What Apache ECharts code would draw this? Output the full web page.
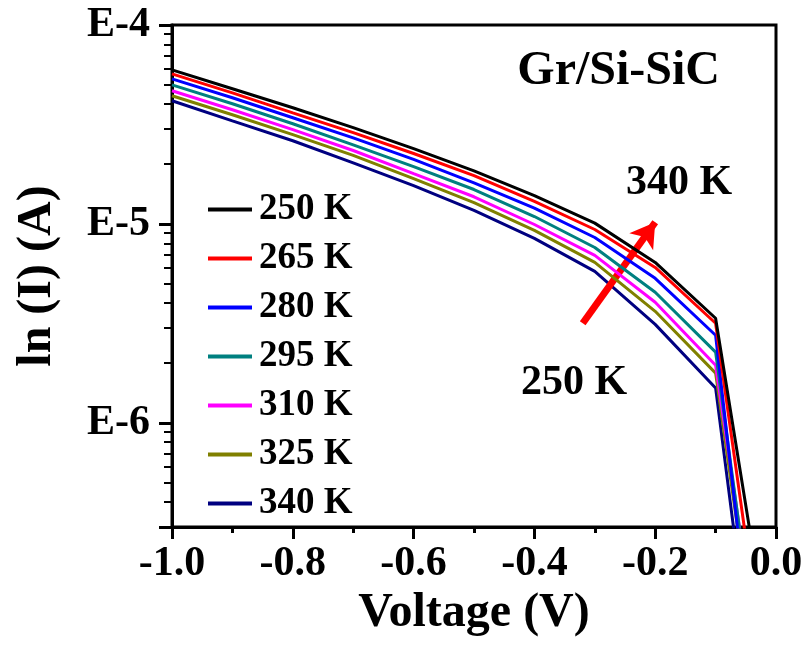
<!DOCTYPE html>
<html>
<head>
<meta charset="utf-8">
<script src="https://cdn.jsdelivr.net/npm/echarts@6/dist/echarts.min.js"></script>
<style>
  html, body { margin: 0; padding: 0; background: #fff; }
  #main { width: 810px; height: 647px; }
</style>
</head>
<body>
<div id="main"></div>
<script>
// voltage (V)
const voltage = [-1.0, -0.9, -0.8, -0.7, -0.6, -0.5, -0.4, -0.3, -0.2, -0.1, 0.0];

// current (A) for each temperature
const i250 = [5.95e-5, 4.78e-5, 3.84e-5, 3.05e-5, 2.39e-5, 1.85e-5, 1.39e-5, 1.01e-5, 6.41e-6, 3.36e-6, 4.4e-8];
const i265 = [5.68e-5, 4.56e-5, 3.62e-5, 2.88e-5, 2.26e-5, 1.75e-5, 1.30e-5, 9.38e-6, 6.05e-6, 3.17e-6, 2.2e-8];
const i280 = [5.36e-5, 4.31e-5, 3.42e-5, 2.71e-5, 2.11e-5, 1.61e-5, 1.20e-5, 8.55e-6, 5.33e-6, 2.76e-6, 5.9e-9];
const i295 = [5.00e-5, 4.02e-5, 3.19e-5, 2.50e-5, 1.94e-5, 1.49e-5, 1.09e-5, 7.62e-6, 4.54e-6, 2.27e-6, 1.3e-8];
const i310 = [4.67e-5, 3.75e-5, 2.98e-5, 2.34e-5, 1.79e-5, 1.37e-5, 9.94e-6, 6.95e-6, 4.04e-6, 1.95e-6, 1.7e-8];
const i325 = [4.41e-5, 3.54e-5, 2.81e-5, 2.21e-5, 1.69e-5, 1.28e-5, 9.28e-6, 6.41e-6, 3.64e-6, 1.78e-6, 1.3e-8];
const i340 = [4.16e-5, 3.30e-5, 2.62e-5, 2.03e-5, 1.56e-5, 1.17e-5, 8.46e-6, 5.78e-6, 3.13e-6, 1.50e-6, 6.5e-9];

const names = ['250 K', '265 K', '280 K', '295 K', '310 K', '325 K', '340 K'];
const currents = [i250, i265, i280, i295, i310, i325, i340];
const colors = ['#000000', '#ff0000', '#0000ff', '#008080', '#ff00ff', '#808000', '#000080'];

// arrow from 250 K side to 340 K side (V, A)
const arrowStart = [-0.32, 3.17e-6];
const arrowEnd = [-0.2, 1.02e-5];

const font = '"Liberation Serif", "Times New Roman", serif';

const myChart = echarts.init(document.getElementById('main'));

const series = names.map((n, k) => ({
  name: n,
  type: 'line',
  data: voltage.map((v, j) => [v, currents[k][j]]),
  showSymbol: false,
  symbol: 'none',
  color: colors[k],
  lineStyle: { width: 3, color: colors[k] },
  clip: true,
  z: 10 - k
}));

// red arrow
series[0].markLine = {
  silent: true,
  symbol: ['none', 'arrow'],
  symbolSize: [22, 24],
  label: { show: false },
  lineStyle: { color: '#ff0000', width: 7, type: 'solid' },
  data: [[{ coord: arrowStart }, { coord: arrowEnd }]]
};

const option = {
  animation: false,
  backgroundColor: '#fff',
  grid: {
    left: 172,
    right: 34,
    top: 25,
    bottom: 120,
    show: true,
    borderColor: '#000',
    borderWidth: 3
  },
  legend: {
    orient: 'vertical',
    left: 203,
    top: 186,
    itemWidth: 44,
    itemHeight: 4,
    itemGap: 12,
    icon: 'rect',
    data: names,
    textStyle: {
      fontFamily: font,
      fontWeight: 'bold',
      fontSize: 37,
      color: '#000',
      padding: [0, 0, 0, 2]
    }
  },
  xAxis: {
    type: 'value',
    min: -1.0,
    max: 0.0,
    interval: 0.2,
    name: 'Voltage (V)',
    nameLocation: 'middle',
    nameGap: 58,
    nameTextStyle: { fontFamily: font, fontWeight: 'bold', fontSize: 48, color: '#000' },
    axisLine: { show: true, onZero: false, lineStyle: { color: '#000', width: 3 } },
    axisTick: { show: true, inside: false, length: 12, lineStyle: { color: '#000', width: 3 } },
    minorTick: { show: true, splitNumber: 2, length: 6, lineStyle: { color: '#000', width: 3 } },
    axisLabel: {
      margin: 16,
      fontFamily: font,
      fontWeight: 'bold',
      fontSize: 42,
      color: '#000',
      formatter: v => v.toFixed(1)
    },
    splitLine: { show: false }
  },
  yAxis: {
    type: 'log',
    logBase: 10,
    min: 3e-7,
    max: 1e-4,
    name: 'ln (I) (A)',
    nameLocation: 'middle',
    nameGap: 110,
    nameTextStyle: { fontFamily: font, fontWeight: 'bold', fontSize: 48, color: '#000' },
    axisLine: { show: true, onZero: false, lineStyle: { color: '#000', width: 3 } },
    axisTick: { show: true, inside: false, length: 13, lineStyle: { color: '#000', width: 3 } },
    minorTick: { show: true, splitNumber: 9, length: 8, lineStyle: { color: '#000', width: 2 } },
    axisLabel: {
      margin: 22,
      fontFamily: font,
      fontWeight: 'bold',
      fontSize: 42,
      color: '#000',
      formatter: v => {
        const e = Math.log10(v);
        return Math.abs(e - Math.round(e)) < 1e-6 ? 'E' + Math.round(e) : '';
      }
    },
    splitLine: { show: false },
    minorSplitLine: { show: false }
  },
  graphic: [
    {
      type: 'text', right: 90, top: 48,
      style: { text: 'Gr/Si-SiC', font: 'bold 48px ' + font, fill: '#000' }
    },
    {
      type: 'text', left: 626, top: 162,
      style: { text: '340 K', font: 'bold 42px ' + font, fill: '#000' }
    },
    {
      type: 'text', left: 521, top: 362,
      style: { text: '250 K', font: 'bold 42px ' + font, fill: '#000' }
    }
  ],
  series: series
};

myChart.setOption(option);
</script>
</body>
</html>
